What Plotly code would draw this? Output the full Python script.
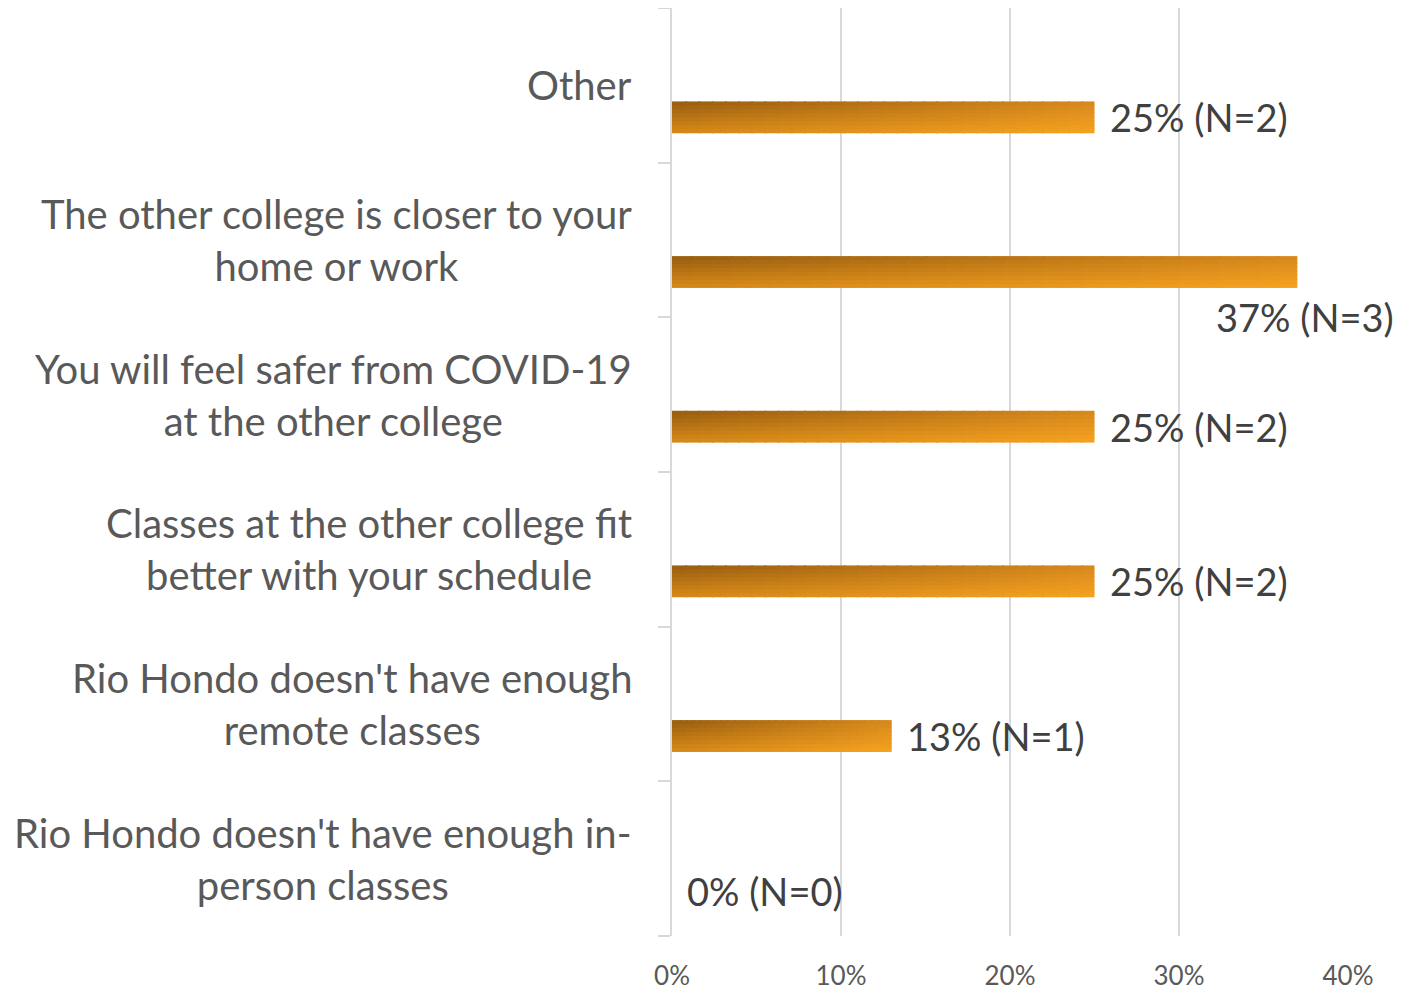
import plotly.graph_objects as go

categories = [
    "Rio Hondo doesn't have enough in-<br>person classes",
    "Rio Hondo doesn't have enough<br>remote classes",
    "Classes at the other college fit<br>better with your schedule",
    "You will feel safer from COVID-19<br>at the other college",
    "The other college is closer to your<br>home or work",
    "Other",
]
values = [0, 13, 25, 25, 37, 25]
counts = [0, 1, 2, 2, 3, 2]
x_ticks = [0, 10, 20, 30, 40]
x_tick_labels = ["0%", "10%", "20%", "30%", "40%"]

FONT = "Lato"
TL, TR = (0x96, 0x5C, 0x10), (0xD6, 0x88, 0x1C)
BL, BR = (0xD8, 0x8A, 0x18), (0xF7, 0xA3, 0x20)


def mix(a, b, t):
    return tuple(a[i] + (b[i] - a[i]) * t for i in range(3))


def color_at(u, v):
    top = mix(TL, TR, u)
    bot = mix(BL, BR, u)
    c = mix(top, bot, v)
    return "rgb(%d,%d,%d)" % tuple(round(x) for x in c)


fig = go.Figure()

N = 32  # horizontal gradient steps
M = 8   # vertical gradient steps
BAR_OFF = -0.31
BAR_W = 0.206
for k in range(M):
    v = 1 - (k + 0.5) / M
    off = BAR_OFF + k * BAR_W / M
    w = BAR_W / M + (0.006 if k < M - 1 else 0)
    for i in range(N):
        u = (i + 0.5) / N
        last = i == N - 1
        fig.add_trace(go.Bar(
            y=categories,
            x=[(val / N + (0 if (last or val == 0) else 0.12)) for val in values],
            base=[val * i / N for val in values],
            orientation="h",
            offset=off,
            width=w,
            marker=dict(color=color_at(u, v), line=dict(width=0)),
            showlegend=False,
            hoverinfo="skip",
        ))

annotations = []
for cat, val, n in zip(categories, values, counts):
    txt = f"{val}% (N={n})"
    if val == max(values):
        annotations.append(dict(x=val, y=cat, xref="x", yref="y", text=txt,
                                showarrow=False, xanchor="center", yanchor="middle",
                                xshift=8, yshift=-77,
                                font=dict(family=FONT, size=38, color="#404040")))
    else:
        annotations.append(dict(x=val, y=cat, xref="x", yref="y", text=txt,
                                showarrow=False, xanchor="left", yanchor="middle",
                                xshift=13, yshift=-32,
                                font=dict(family=FONT, size=38, color="#404040")))
    annotations.append(dict(x=0, y=cat, xref="paper", yref="y", text=cat,
                            showarrow=False, xanchor="right", yanchor="middle",
                            align="center", xshift=-38,
                            font=dict(family=FONT, size=40, color="#595959")))

shapes = [
    dict(type="line", xref="paper", yref="paper", x0=1.0858, x1=1.0858,
         y0=1.0075, y1=0.7546, line=dict(color="#EEDCBF", width=4, dash="dot")),
    dict(type="line", xref="paper", yref="paper", x0=1.0858, x1=1.0858,
         y0=0.7546, y1=0.534, line=dict(color="#FBF4EA", width=4)),
    dict(type="line", xref="paper", yref="paper", x0=1.0858, x1=1.0858,
         y0=0.480, y1=0.2002, line=dict(color="#EEDCBF", width=4, dash="dot")),
]

fig.update_layout(
    width=1408, height=1001,
    margin=dict(l=664, r=68, t=0, b=73),
    paper_bgcolor="white", plot_bgcolor="white",
    barmode="overlay",
    annotations=annotations,
    shapes=shapes,
    xaxis=dict(range=[0, 40], tickvals=x_ticks, ticktext=x_tick_labels,
               showgrid=True, gridcolor="#D9D9D9", gridwidth=2,
               zeroline=False, showline=False, ticks="",
               tickfont=dict(family=FONT, size=26, color="#595959"),
               ticklabelstandoff=22, fixedrange=True),
    yaxis=dict(categoryorder="array", categoryarray=categories,
               range=[-0.5, 5.5], showticklabels=False,
               showline=True, linecolor="#D9D9D9", linewidth=2,
               ticks="outside", tickson="boundaries", ticklen=12,
               tickcolor="#D9D9D9", tickwidth=2, showgrid=False,
               zeroline=False, fixedrange=True),
)

fig.write_html("out.html")
